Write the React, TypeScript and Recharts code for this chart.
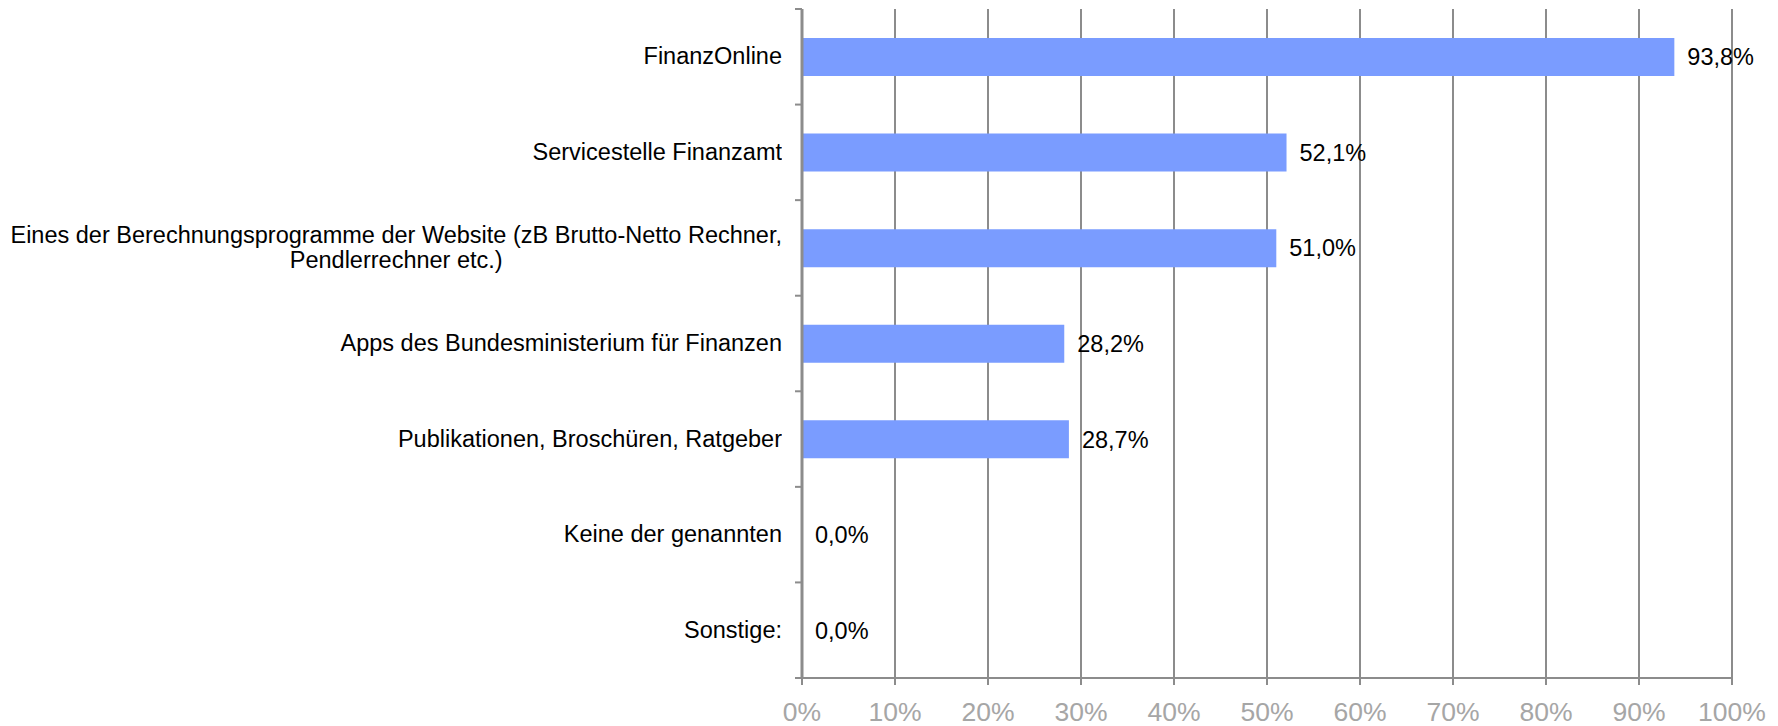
import { Bar, BarChart, CartesianGrid, LabelList, XAxis, YAxis } from "recharts";

const categories = [
  "FinanzOnline",
  "Servicestelle Finanzamt",
  "Eines der Berechnungsprogramme der Website (zB Brutto-Netto Rechner,\nPendlerrechner etc.)",
  "Apps des Bundesministerium für Finanzen",
  "Publikationen, Broschüren, Ratgeber",
  "Keine der genannten",
  "Sonstige:",
];

const shares = [93.8, 52.1, 51.0, 28.2, 28.7, 0.0, 0.0];

const percentTicks = [0, 10, 20, 30, 40, 50, 60, 70, 80, 90, 100];

const data = categories.map((name, i) => ({ name, value: shares[i] }));

const FONT = "'Liberation Sans', Arial, sans-serif";
const AXIS = "#8c8c8c";
const LABEL_GAP = 20;

function CategoryTick(props: any) {
  const { x, y, payload, index } = props;
  const half = payload.offset || 0;
  const ax = x + LABEL_GAP;
  const isLast = index === categories.length - 1;
  return (
    <g>
      <line x1={ax - 7} x2={ax} y1={y - half} y2={y - half} stroke={AXIS} strokeWidth={2} />
      {isLast && (
        <line x1={ax - 7} x2={ax} y1={y + half} y2={y + half} stroke={AXIS} strokeWidth={2} />
      )}
      <foreignObject x={x - 790} y={y - 40} width={790} height={80}>
        <div
          style={{
            display: "flex",
            justifyContent: "flex-end",
            alignItems: "center",
            height: "100%",
            fontFamily: FONT,
            fontSize: 23.5,
            lineHeight: "25px",
            color: "#000",
            textAlign: "center",
            whiteSpace: "pre-line",
          }}
        >
          <span>{payload.value}</span>
        </div>
      </foreignObject>
    </g>
  );
}

const fmt = (v: number) => `${v.toFixed(1).replace(".", ",")}%`;

export default function App() {
  return (
    <div style={{ position: "absolute", left: 0, top: 0 }}>
      <BarChart
        width={1778}
        height={726}
        data={data}
        layout="vertical"
        margin={{ top: 9, right: 46, bottom: 0, left: 0 }}
      >
        <CartesianGrid horizontal={false} stroke={AXIS} strokeWidth={2} />
        <XAxis
          type="number"
          domain={[0, 100]}
          ticks={percentTicks}
          interval={0}
          tickFormatter={(v) => `${v}%`}
          height={48}
          stroke={AXIS}
          strokeWidth={2}
          tickSize={7}
          tickMargin={17}
          tick={{ fill: "#a6a6a6", fontSize: 26.5, fontFamily: FONT }}
        />
        <YAxis
          type="category"
          dataKey="name"
          width={802}
          axisLine={{ stroke: AXIS, strokeWidth: 3 }}
          tickLine={false}
          tickSize={0}
          tickMargin={LABEL_GAP}
          interval={0}
          tick={<CategoryTick />}
        />
        <Bar
          dataKey="value"
          fill="#7a9cff"
          barSize={38}
          minPointSize={0.01}
          isAnimationActive={false}
        >
          <LabelList
            dataKey="value"
            position="right"
            offset={13}
            formatter={(v: any) => fmt(Number(v))}
            style={{ fill: "#000", fontSize: 23.5, fontFamily: FONT }}
          />
        </Bar>
      </BarChart>
    </div>
  );
}
